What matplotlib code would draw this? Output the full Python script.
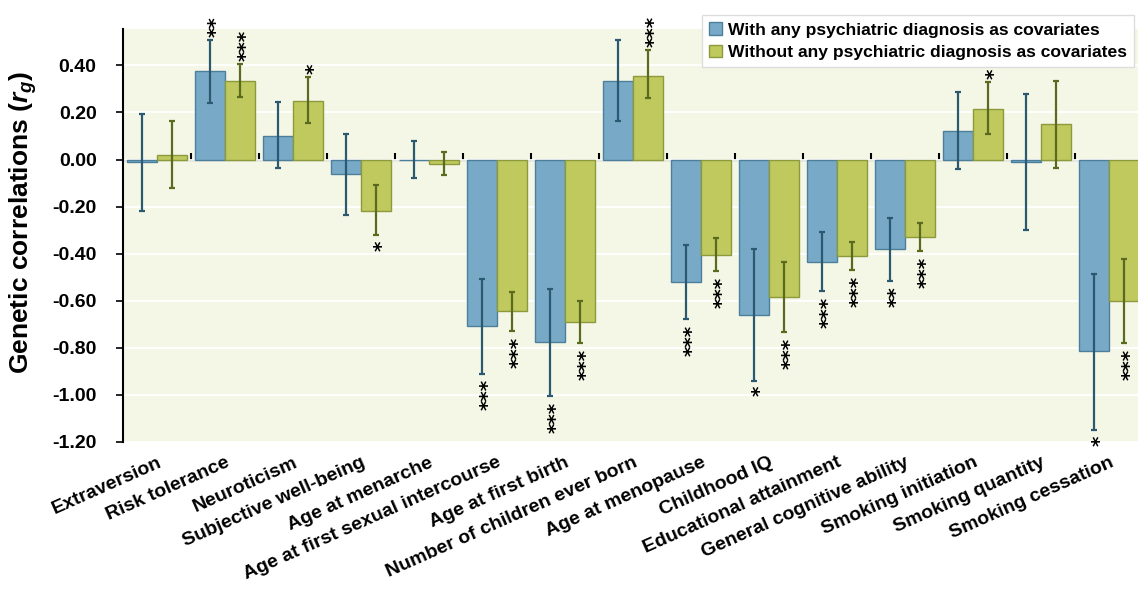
import matplotlib
matplotlib.use("Agg")
import matplotlib.pyplot as plt
import numpy as np

# categories and values
categories = ["Extraversion", "Risk tolerance", "Neuroticism", "Subjective well-being",
              "Age at menarche", "Age at first sexual intercourse", "Age at first birth",
              "Number of children ever born", "Age at menopause", "Childhood IQ",
              "Educational attainment", "General cognitive ability", "Smoking initiation",
              "Smoking quantity", "Smoking cessation"]

with_vals = [-0.01, 0.375, 0.10, -0.06, 0.00, -0.71, -0.775, 0.335, -0.52, -0.66,
             -0.435, -0.38, 0.12, -0.01, -0.815]
with_lo = [-0.22, 0.24, -0.035, -0.235, -0.08, -0.91, -1.005, 0.165, -0.68, -0.94,
           -0.56, -0.515, -0.04, -0.30, -1.15]
with_hi = [0.195, 0.51, 0.245, 0.11, 0.08, -0.51, -0.55, 0.51, -0.365, -0.38,
           -0.31, -0.25, 0.285, 0.28, -0.485]
with_stars = ["", "**", "", "", "", "***", "***", "", "***", "*",
              "***", "**", "", "", "*"]

without_vals = [0.02, 0.335, 0.25, -0.22, -0.02, -0.645, -0.69, 0.355, -0.405, -0.585,
                -0.41, -0.33, 0.215, 0.15, -0.60]
without_lo = [-0.12, 0.265, 0.155, -0.32, -0.065, -0.73, -0.78, 0.26, -0.475, -0.735,
              -0.47, -0.39, 0.11, -0.035, -0.78]
without_hi = [0.165, 0.405, 0.35, -0.11, 0.03, -0.565, -0.60, 0.465, -0.335, -0.435,
              -0.35, -0.27, 0.33, 0.335, -0.425]
without_stars = ["", "***", "*", "*", "", "***", "***", "***", "***", "***",
                 "***", "***", "*", "", "***"]

y_ticks = [-1.2, -1.0, -0.8, -0.6, -0.4, -0.2, 0.0, 0.2, 0.4]

BLUE = "#78aac7"
BLUE_EDGE = "#4b7f9c"
BLUE_ERR = "#2c5870"
GREEN = "#bfc95e"
GREEN_EDGE = "#8c9a3c"
GREEN_ERR = "#5a6a1e"
BG = "#f5f7e6"
FONT = "Liberation Sans"

plt.rcParams["font.family"] = FONT
plt.rcParams["axes.unicode_minus"] = False
plt.rcParams["mathtext.fontset"] = "custom"
plt.rcParams["mathtext.rm"] = "Liberation Sans:bold"
plt.rcParams["mathtext.it"] = "Liberation Sans:italic:bold"
plt.rcParams["mathtext.bf"] = "Liberation Sans:bold"

W, H = 1138, 598
fig = plt.figure(figsize=(W / 100, H / 100), dpi=100)
ax_left, ax_right, ax_top, ax_bot = 123, 1143, 29, 441.7
ax = fig.add_axes([ax_left / W, 1 - ax_bot / H, (ax_right - ax_left) / W, (ax_bot - ax_top) / H])
ax.set_facecolor(BG)

x = np.arange(len(categories))
bw = 0.43
off = 0.22


def draw_series(xpos, vals, lo, hi, color, edge, ecolor, label):
    vals = np.array(vals)
    yerr = [vals - np.array(lo), np.array(hi) - vals]
    ax.bar(xpos, vals, bw, color=color, edgecolor=edge, linewidth=1.0, label=label,
           yerr=yerr, error_kw=dict(ecolor=ecolor, elinewidth=1.6, capsize=2.5, capthick=1.6),
           zorder=3)


draw_series(x - off, with_vals, with_lo, with_hi, BLUE, BLUE_EDGE, BLUE_ERR,
            "With any psychiatric diagnosis as covariates")
draw_series(x + off, without_vals, without_lo, without_hi, GREEN, GREEN_EDGE, GREEN_ERR,
            "Without any psychiatric diagnosis as covariates")

# significance stars, stacked vertically beyond the error bar end
for xpos, vals, lo, hi, stars in [(x - off, with_vals, with_lo, with_hi, with_stars),
                                  (x + off, without_vals, without_lo, without_hi, without_stars)]:
    for xi, v, l, h, s in zip(xpos, vals, lo, hi, stars):
        if not s:
            continue
        if v >= 0:
            ax.annotate(s, xy=(xi, h), xytext=(4.3, 2), textcoords="offset points",
                        rotation=90, ha="center", va="bottom", fontsize=14.5,
                        family="DejaVu Sans", fontweight="bold", zorder=5)
        else:
            ax.annotate(s, xy=(xi, l), xytext=(4.3, -4), textcoords="offset points",
                        rotation=90, ha="center", va="top", fontsize=14.5,
                        family="DejaVu Sans", fontweight="bold", zorder=5)

ax.set_xlim(-0.5, len(categories) - 0.5)
ax.set_ylim(-1.2, 0.555)

# faint grid
ax.set_yticks(y_ticks)
ax.set_yticklabels([f"{t:.2f}" for t in y_ticks], fontsize=14, fontweight="bold")
ax.yaxis.grid(True, color="white", linewidth=1.3, zorder=0)
ax.set_axisbelow(True)
ax.tick_params(axis="y", direction="out", length=5, width=1.2, pad=14, colors="black")

ax.set_xticks(x)
ax.set_xticklabels(categories, rotation=24, ha="right", rotation_mode="anchor",
                   fontsize=14, fontweight="bold")
ax.tick_params(axis="x", length=0, pad=9)

for side in ["top", "right", "bottom"]:
    ax.spines[side].set_visible(False)
ax.spines["left"].set_linewidth(1.5)

# zero line with group separator ticks
zero_frac = (0 - ax.get_ylim()[0]) / (ax.get_ylim()[1] - ax.get_ylim()[0])
sec = ax.secondary_xaxis(zero_frac)
sec.set_xticks(x[:-1] + 0.5)
sec.set_xticklabels([])
sec.tick_params(direction="out", length=5, width=1.5)
sec.spines["bottom"].set_linewidth(2.0)

ax.set_ylabel("Genetic correlations ($r_g$)", fontsize=19, fontweight="bold", va="center")
ax.yaxis.set_label_coords(-0.098, 0.532)

leg = ax.legend(loc="upper right", bbox_to_anchor=(1134 / W, 1 - 15 / H),
                bbox_transform=fig.transFigure, prop=dict(family=FONT, weight="bold", size=12.6),
                frameon=True, fancybox=False, edgecolor="#dddddd", framealpha=1,
                handlelength=0.75, handleheight=0.75, handletextpad=0.35,
                labelspacing=0.4, borderpad=0.4, borderaxespad=0)
leg.get_frame().set_linewidth(1.0)

fig.savefig("out.png", dpi=100)
